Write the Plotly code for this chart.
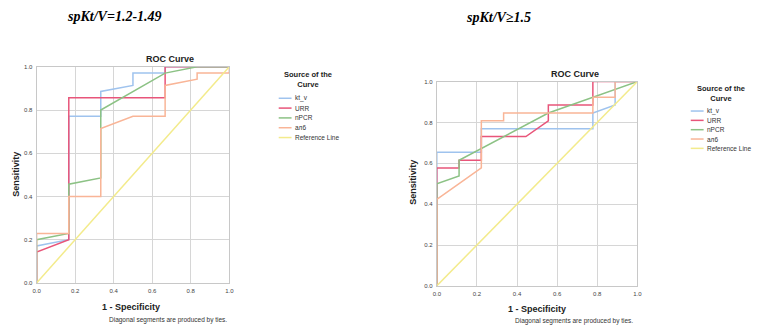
import plotly.graph_objects as go

W, H = 759, 336

# ---------------- data ----------------
series_names = ["kt_v", "URR", "nPCR", "ал6", "Reference Line"]
series_colors = ["#9fc3ee", "#e8557a", "#8cc285", "#f9b597", "#f3eb8c"]

# panel 1: spKt/V = 1.2-1.49
p1_ktv_fpr = [0, 0, 0.167, 0.167, 0.333, 0.333, 0.5, 0.5, 0.667, 0.667, 1]
p1_ktv_tpr = [0, 0.171, 0.2, 0.771, 0.771, 0.886, 0.914, 0.971, 0.971, 1, 1]
p1_urr_fpr = [0, 0, 0.167, 0.167, 0.667, 0.667, 1]
p1_urr_tpr = [0, 0.143, 0.2, 0.857, 0.857, 1, 1]
p1_npcr_fpr = [0, 0, 0.167, 0.167, 0.333, 0.333, 0.667, 0.833, 1]
p1_npcr_tpr = [0, 0.2, 0.229, 0.457, 0.486, 0.8, 0.971, 1, 1]
p1_al6_fpr = [0, 0, 0.167, 0.167, 0.333, 0.333, 0.5, 0.667, 0.667, 0.833, 0.833, 1, 1]
p1_al6_tpr = [0, 0.229, 0.229, 0.4, 0.4, 0.714, 0.771, 0.771, 0.914, 0.943, 0.971, 0.971, 1]

# panel 2: spKt/V >= 1.5
p2_ktv_fpr = [0, 0, 0.222, 0.222, 0.778, 0.778, 0.889, 0.889, 1]
p2_ktv_tpr = [0, 0.654, 0.654, 0.769, 0.769, 0.846, 0.885, 1, 1]
p2_urr_fpr = [0, 0, 0.111, 0.111, 0.222, 0.222, 0.444, 0.556, 0.556, 0.778, 0.778, 1]
p2_urr_tpr = [0, 0.577, 0.577, 0.615, 0.615, 0.731, 0.731, 0.808, 0.885, 0.885, 1, 1]
p2_npcr_fpr = [0, 0, 0.111, 0.111, 0.556, 0.778, 1]
p2_npcr_tpr = [0, 0.5, 0.538, 0.615, 0.846, 0.923, 1]
p2_al6_fpr = [0, 0, 0.111, 0.222, 0.222, 0.333, 0.333, 0.778, 0.778, 0.889, 0.889, 1]
p2_al6_tpr = [0, 0.423, 0.5, 0.577, 0.808, 0.808, 0.846, 0.846, 0.923, 0.923, 1, 1]

ref_fpr = [0, 1]
ref_tpr = [0, 1]

tick_vals = [0, 0.2, 0.4, 0.6, 0.8, 1.0]
tick_text = ["0.0", "0.2", "0.4", "0.6", "0.8", "1.0"]

panel_titles = ["spKt/V=1.2-1.49", "spKt/V≥1.5"]

# ---------------- layout helpers ----------------
def px(x):
    return x / W

def py(y):
    return 1 - y / H

panels = [
    dict(xa="x", ya="y", x0=33, x1=228, y0=65, y1=285,
         data=[(p1_ktv_fpr, p1_ktv_tpr), (p1_urr_fpr, p1_urr_tpr),
               (p1_npcr_fpr, p1_npcr_tpr), (p1_al6_fpr, p1_al6_tpr),
               (ref_fpr, ref_tpr)],
         title=(112, 14), roc=(168, 57), sens=(12, 174), spec=(129, 310), note=(166, 323),
         leg_title=(308, 78), leg_line_x=(278, 291), leg_text_x=293, leg_y0=97, leg_dy=10),
    dict(xa="x2", ya="y2", x0=438, x1=641, y0=80, y1=288,
         data=[(p2_ktv_fpr, p2_ktv_tpr), (p2_urr_fpr, p2_urr_tpr),
               (p2_npcr_fpr, p2_npcr_tpr), (p2_al6_fpr, p2_al6_tpr),
               (ref_fpr, ref_tpr)],
         title=(500, 15), roc=(578, 72), sens=(414, 183), spec=(539, 312), note=(577, 324),
         leg_title=(726, 92.5), leg_line_x=(695, 708), leg_text_x=710, leg_y0=110, leg_dy=9.5),
]

fig = go.Figure()
annotations = []
shapes = []
FONT = "Liberation Sans"


def ann(text, x, y, size, family=FONT, color="#222", **kw):
    d = dict(text=text, x=px(x), y=py(y), xref="paper", yref="paper", showarrow=False,
             xanchor="center", yanchor="middle", borderpad=0,
             font=dict(family=family, size=size, color=color))
    d.update(kw)
    return d


for i, p in enumerate(panels):
    for (fx, ty), name, col in zip(p["data"], series_names, series_colors):
        fig.add_trace(go.Scatter(x=fx, y=ty, mode="lines", name=name,
                                 line=dict(color=col, width=1.5),
                                 xaxis=p["xa"], yaxis=p["ya"], showlegend=False,
                                 hoverinfo="skip"))
    suffix = "" if i == 0 else "2"
    axis_common = dict(range=[0, 1], tickvals=tick_vals, ticktext=tick_text,
                       showgrid=True, gridcolor="#d6d6d6", gridwidth=1,
                       showline=True, linecolor="#c8c8c8", linewidth=1, mirror=True,
                       zeroline=False, ticks="", fixedrange=True,
                       tickfont=dict(family=FONT, size=6, color="#444"))
    fig.layout["xaxis" + suffix] = dict(axis_common, domain=[px(p["x0"]), px(p["x1"])],
                                        anchor="y" + suffix, ticklabelstandoff=2)
    fig.layout["yaxis" + suffix] = dict(axis_common, domain=[py(p["y1"]), py(p["y0"])],
                                        anchor="x" + suffix, ticklabelstandoff=2)

    annotations.append(ann("<b><i>" + panel_titles[i] + "</i></b>", *p["title"], 14,
                           family="Liberation Serif", color="#000"))
    annotations.append(ann("<b>ROC Curve</b>", *p["roc"], 9))
    annotations.append(ann("<b>Sensitivity</b>", *p["sens"], 9, textangle=-90))
    annotations.append(ann("<b>1 - Specificity</b>", *p["spec"], 9))
    annotations.append(ann("Diagonal segments are produced by ties.", *p["note"], 6.5,
                           color="#333"))
    annotations.append(ann("<b>Source of the<br>Curve</b>", *p["leg_title"], 7.5, align="center"))
    for k, (name, col) in enumerate(zip(series_names, series_colors)):
        yy = p["leg_y0"] + k * p["leg_dy"]
        shapes.append(dict(type="line", xref="paper", yref="paper",
                           x0=px(p["leg_line_x"][0]), x1=px(p["leg_line_x"][1]),
                           y0=py(yy), y1=py(yy), line=dict(color=col, width=1.5)))
        annotations.append(ann(name, p["leg_text_x"], yy, 6.5, color="#333", xanchor="left"))

fig.update_layout(width=W, height=H, margin=dict(l=0, r=0, t=0, b=0),
                  paper_bgcolor="white", plot_bgcolor="white",
                  annotations=annotations, shapes=shapes, showlegend=False)

fig.write_html("out.html", config={"displayModeBar": False},
               post_script="document.body.style.margin='0px';")
